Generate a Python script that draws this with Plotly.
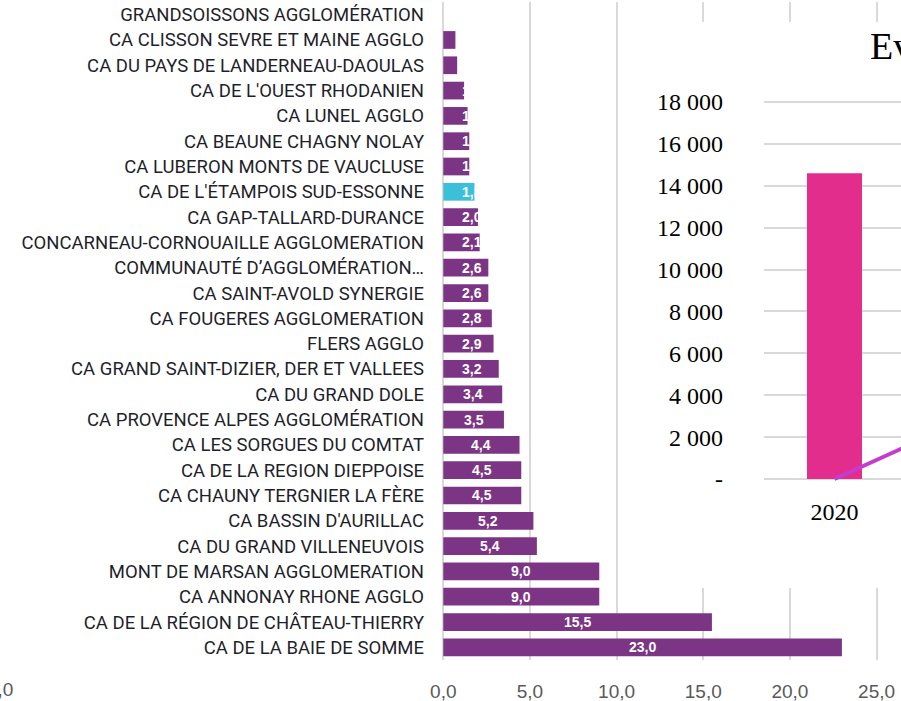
import plotly.graph_objects as go

# ---------------- data ----------------
categories = [
    "GRANDSOISSONS AGGLOMÉRATION",
    "CA CLISSON SEVRE ET MAINE AGGLO",
    "CA DU PAYS DE LANDERNEAU-DAOULAS",
    "CA DE L'OUEST RHODANIEN",
    "CA LUNEL AGGLO",
    "CA BEAUNE CHAGNY NOLAY",
    "CA LUBERON MONTS DE VAUCLUSE",
    "CA DE L'ÉTAMPOIS SUD-ESSONNE",
    "CA GAP-TALLARD-DURANCE",
    "CONCARNEAU-CORNOUAILLE AGGLOMERATION",
    "COMMUNAUTÉ D’AGGLOMÉRATION…",
    "CA SAINT-AVOLD SYNERGIE",
    "CA FOUGERES AGGLOMERATION",
    "FLERS AGGLO",
    "CA GRAND SAINT-DIZIER, DER ET VALLEES",
    "CA DU GRAND DOLE",
    "CA PROVENCE ALPES AGGLOMÉRATION",
    "CA LES SORGUES DU COMTAT",
    "CA DE LA REGION DIEPPOISE",
    "CA CHAUNY TERGNIER LA FÈRE",
    "CA BASSIN D'AURILLAC",
    "CA DU GRAND VILLENEUVOIS",
    "MONT DE MARSAN AGGLOMERATION",
    "CA ANNONAY RHONE AGGLO",
    "CA DE LA RÉGION DE CHÂTEAU-THIERRY",
    "CA DE LA BAIE DE SOMME",
]
values = [None, 0.7, 0.8, 1.2, 1.4, 1.5, 1.5, 1.8, 2.0, 2.1, 2.6, 2.6, 2.8, 2.9,
          3.2, 3.4, 3.5, 4.4, 4.5, 4.5, 5.2, 5.4, 9.0, 9.0, 15.5, 23.0]
highlight = "CA DE L'ÉTAMPOIS SUD-ESSONNE"

x_tickvals = [0, 5, 10, 15, 20, 25]

# inset chart (partially visible)
inset_title = "Evolution"
inset_years = ["2020", "2021"]
inset_bar_years = ["2020"]
inset_bar_values = [14600]
inset_line_values = [0, 3050]
inset_tickvals = [0, 2000, 4000, 6000, 8000, 10000, 12000, 14000, 16000, 18000]
inset_ticktext = ["-", "2 000", "4 000", "6 000", "8 000", "10 000", "12 000",
                  "14 000", "16 000", "18 000"]
edge_tick_label = "0,0"

# ---------------- styles ----------------
PURPLE = "#7B3584"
CYAN = "#3CBFD8"
PINK = "#E32D8C"
MAGENTA = "#C43BD0"
W, H = 901, 701
MIN_LABEL_X = 1.68   # labels never start closer than ~19px to the bar base

def px_x(p):
    return p / W

def px_y(p):
    return 1 - p / H

colors = [CYAN if c == highlight else PURPLE for c in categories]

fig = go.Figure()

# main bar chart
fig.add_trace(go.Bar(
    x=values, y=categories, orientation="h",
    marker=dict(color=colors, line=dict(width=0)),
    xaxis="x", yaxis="y", showlegend=False, hoverinfo="skip",
))

# white backdrop of the inset
fig.add_trace(go.Scatter(
    x=[0, 1, 1, 0, 0], y=[0, 0, 1, 1, 0], mode="lines", fill="toself",
    fillcolor="white", line=dict(width=0), xaxis="x2", yaxis="y2",
    showlegend=False, hoverinfo="skip",
))

# inset bar + line
fig.add_trace(go.Bar(
    x=inset_bar_years, y=inset_bar_values, width=0.39,
    marker=dict(color=PINK, line=dict(width=0)),
    xaxis="x3", yaxis="y3", showlegend=False, hoverinfo="skip",
))
fig.add_trace(go.Scatter(
    x=inset_years, y=inset_line_values, mode="lines",
    line=dict(color=MAGENTA, width=4),
    xaxis="x3", yaxis="y3", showlegend=False, hoverinfo="skip",
))

# bar value labels (white, centred, clamped near the base like the original)
annotations = []
for c, v in zip(categories, values):
    if v is None:
        continue
    annotations.append(dict(
        text=f"{v:.1f}".replace(".", ","), x=max(v / 2, MIN_LABEL_X), y=c,
        xref="x", yref="y", xanchor="center", yanchor="middle", showarrow=False,
        font=dict(family="Liberation Sans", size=14, color="white", weight="bold"),
    ))

annotations += [
    dict(text=inset_title, x=px_x(868), y=px_y(46), xref="paper", yref="paper",
         xanchor="left", yanchor="middle", showarrow=False,
         font=dict(family="Liberation Serif", size=38, color="black")),
    dict(text=edge_tick_label, x=px_x(15), y=px_y(689), xref="paper", yref="paper",
         xanchor="right", yanchor="middle", showarrow=False,
         font=dict(family="Liberation Sans", size=19, color="#595959")),
]

# inset y scale: 0 at 479px, 18000 at 102px
k = (479 - 102) / 18000.0
y3_lo, y3_hi = -100, 18200
y3_bottom_px = 479 + (0 - y3_lo) * k
y3_top_px = 479 - y3_hi * k

fig.update_layout(
    width=W, height=H,
    margin=dict(l=0, r=0, t=0, b=0, pad=0),
    paper_bgcolor="white", plot_bgcolor="white",
    separators=", ",
    bargap=0.3,
    xaxis=dict(
        domain=[px_x(440), 1], range=[-0.19, 26.41],
        tickvals=x_tickvals, tickformat=".1f",
        showgrid=True, gridcolor="#d9d9d9", gridwidth=1.5,
        zeroline=False, showline=False, ticks="",
        tickfont=dict(family="Liberation Sans", size=19, color="#595959"),
        ticklabelstandoff=18, anchor="y", automargin=False,
    ),
    yaxis=dict(
        domain=[px_y(660), px_y(2)], type="category", autorange="reversed",
        showgrid=False, zeroline=False, showline=False, ticks="",
        tickfont=dict(family="Roboto", size=18.5, color="#1f1f2b"),
        ticklabelstandoff=15, anchor="x", automargin=False,
    ),
    xaxis2=dict(domain=[px_x(622), 1], range=[0, 1], visible=False,
                fixedrange=True, anchor="y2", automargin=False),
    yaxis2=dict(domain=[px_y(588), px_y(22)], range=[0, 1], visible=False,
                fixedrange=True, anchor="x2", automargin=False),
    xaxis3=dict(
        domain=[px_x(764), 1], type="category",
        categoryorder="array", categoryarray=inset_years,
        range=[-0.5, -0.5 + (901 - 764) / 141.0],
        showgrid=False, zeroline=False, showline=False, ticks="",
        tickfont=dict(family="Liberation Serif", size=24, color="black"),
        ticklabelstandoff=14, anchor="y3", automargin=False,
    ),
    yaxis3=dict(
        domain=[px_y(y3_bottom_px), px_y(y3_top_px)], range=[y3_lo, y3_hi],
        tickvals=inset_tickvals, ticktext=inset_ticktext,
        showgrid=True, gridcolor="#d9d9d9", gridwidth=1.5,
        zeroline=False, showline=False, ticks="",
        tickfont=dict(family="Liberation Serif", size=24, color="black"),
        ticklabelstandoff=40, anchor="x3", automargin=False,
    ),
    annotations=annotations,
)

fig.write_html("out.html", config={"displayModeBar": False},
               post_script="document.body.style.margin='0px';")
